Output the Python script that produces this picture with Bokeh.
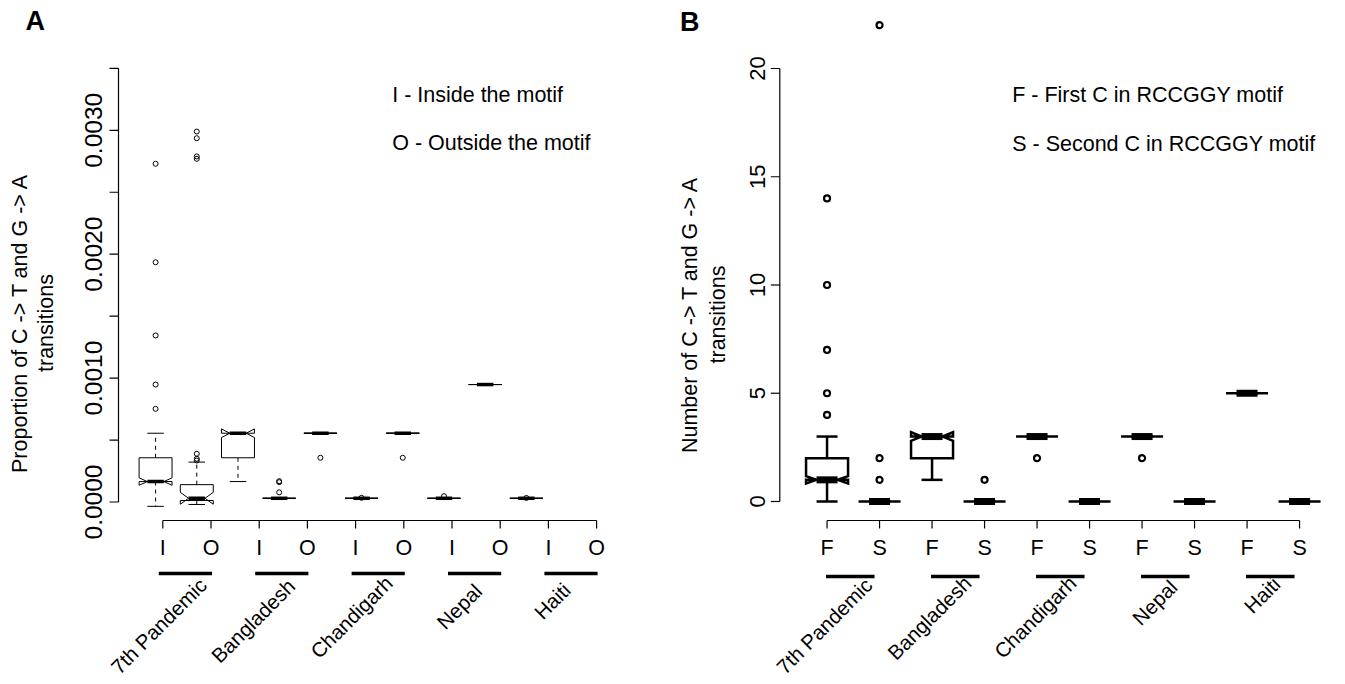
import math
from bokeh.plotting import figure
from bokeh.layouts import row
from bokeh.models import Range1d
from bokeh.core.properties import value
from bokeh.embed import file_html
from bokeh.resources import INLINE

FONT = "Liberation Sans"

# ---------------- data ----------------
groups = ["7th Pandemic", "Bangladesh", "Chandigarh", "Nepal", "Haiti"]
a_codes = ["I", "O"]
b_codes = ["F", "S"]

# Panel A: proportion of C->T / G->A transitions (box statistics, boxes I,O per group)
a_lower = [-0.000035, -0.000020, 0.000165, 0.000030, 0.000555, 0.000030, 0.000555, 0.000030, 0.000948, 0.000030]
a_q1    = [0.000165, 0.000012, 0.000357, 0.000030, 0.000555, 0.000030, 0.000555, 0.000030, 0.000948, 0.000030]
a_med   = [0.000165, 0.000030, 0.000555, 0.000030, 0.000555, 0.000030, 0.000555, 0.000030, 0.000948, 0.000030]
a_q3    = [0.000357, 0.000140, 0.000555, 0.000030, 0.000555, 0.000030, 0.000555, 0.000030, 0.000948, 0.000030]
a_upper = [0.000555, 0.000322, 0.000555, 0.000030, 0.000555, 0.000030, 0.000555, 0.000030, 0.000948, 0.000030]
a_notch = [0.000030, 0.000048, 0.000035, 0.0, 0.0, 0.0, 0.0, 0.0, 0.0, 0.0]
a_out = [[0.000752, 0.000948, 0.001344, 0.001935, 0.002730],
         [0.000335, 0.000349, 0.000389, 0.002770, 0.002789, 0.002936, 0.002990],
         [],
         [0.000078, 0.000160, 0.000168],
         [0.000357],
         [0.000034],
         [0.000357],
         [0.000047],
         [],
         [0.000033]]

# Panel B: number of C->T / G->A transitions (boxes F,S per group)
b_lower = [0, 0, 1, 0, 3, 0, 3, 0, 5, 0]
b_q1    = [1, 0, 2, 0, 3, 0, 3, 0, 5, 0]
b_med   = [1, 0, 3, 0, 3, 0, 3, 0, 5, 0]
b_q3    = [2, 0, 3, 0, 3, 0, 3, 0, 5, 0]
b_upper = [3, 0, 3, 0, 3, 0, 3, 0, 5, 0]
b_notch = [0.17, 0, 0.2, 0, 0, 0, 0, 0, 0, 0]
b_out = [[4, 5, 7, 10, 14], [1, 2, 22], [], [1], [2], [], [2], [], [], []]

a_yticks = [0.0, 0.001, 0.002, 0.003]
a_yminor = [0.0005, 0.0015, 0.0025, 0.0035]
b_yticks = [0, 5, 10, 15, 20]

a_legend = ["I - Inside the motif", "O - Outside the motif"]
b_legend = ["F - First C in RCCGGY motif", "S - Second C in RCCGGY motif"]
a_ylabel = ["Proportion of C -> T and G -> A", "transitions"]
b_ylabel = ["Number of C -> T and G -> A", "transitions"]

# ---------------- layout (page pixels) ----------------
A_LAB_DX = [-3, -11, -10, -17, -25]      # group-name end relative to 2nd tick
A_LAB_Y = [586, 587, 584, 592, 591]
B_LAB_DX = [-6, -12, -12, -16, -18]
B_LAB_Y = [586, 584, 584, 588, 585]
MID = 0.3465  # em offset from alphabetic baseline to middle of em box


class Geo:
    def __init__(self, left, w, h, ax, x0, sx, ay, sy):
        self.left, self.w, self.h = left, w, h
        self.ax, self.x0, self.sx, self.ay, self.sy = ax, x0, sx, ay, sy

    def X(self, px):
        return self.x0 + (px - self.ax) / self.sx

    def Y(self, py):
        return (self.ay - py) / self.sy


def make_fig(g):
    p = figure(width=g.w, height=g.h,
               x_range=Range1d(g.X(g.left), g.X(g.left + g.w)),
               y_range=Range1d(g.Y(g.h), g.Y(0)),
               output_backend="svg", toolbar_location=None,
               x_axis_location=None, y_axis_location=None, title=None,
               min_border=0, min_border_left=0, min_border_right=0,
               min_border_top=0, min_border_bottom=0)
    p.grid.visible = False
    p.outline_line_color = None
    p.background_fill_color = "white"
    p.border_fill_color = "white"
    return p


def txt(p, xs, ys, texts, size_px, angle=0.0, align="left", style="normal"):
    p.text(x=xs, y=ys, text=texts, angle=angle, text_align=align, text_baseline="middle",
           text_font=value(FONT), text_font_size=value("%gpx" % size_px),
           text_font_style=value(style), text_color="black")


def draw_yaxis(p, g, ticks, minor, labels, top_val, base_px, size_px):
    xa = g.X(g.ax)
    xt = g.X(g.ax - 9)
    p.segment([xa], [0], [xa], [top_val], line_color="black", line_width=1.2)
    allt = sorted(list(ticks) + list(minor))
    p.segment([xa] * len(allt), allt, [xt] * len(allt), allt, line_color="black", line_width=1.2)
    txt(p, [g.X(base_px - MID * size_px)] * len(ticks), list(ticks), labels, size_px,
        angle=math.pi / 2, align="center")


def draw_boxes(p, lower, q1, med, q3, upper, notch, outl, lw, med_lw, dash, o_size, o_lw):
    pos = list(range(1, len(med) + 1))
    hw, nw, st = 0.4, 0.5, 0.2
    p.segment(pos, q3, pos, upper, line_color="black", line_width=lw, line_dash=dash)
    p.segment(pos, q1, pos, lower, line_color="black", line_width=lw, line_dash=dash)
    p.segment([x - st for x in pos], upper, [x + st for x in pos], upper,
              line_color="black", line_width=lw)
    p.segment([x - st for x in pos], lower, [x + st for x in pos], lower,
              line_color="black", line_width=lw)
    pxs, pys = [], []
    for i, x in enumerate(pos):
        pxs.append([x - hw, x + hw, x + hw, x + hw * nw, x + hw, x + hw, x - hw, x - hw, x - hw * nw, x - hw])
        pys.append([q1[i], q1[i], med[i] - notch[i], med[i], med[i] + notch[i], q3[i], q3[i],
                    med[i] + notch[i], med[i], med[i] - notch[i]])
    p.patches(pxs, pys, fill_color="white", line_color="black", line_width=lw, line_join="miter")
    p.segment([x - hw * nw for x in pos], med, [x + hw * nw for x in pos], med,
              line_color="black", line_width=med_lw, line_cap="butt")
    ox, oy = [], []
    for i, vals in enumerate(outl):
        for v in vals:
            ox.append(pos[i])
            oy.append(v)
    p.scatter(ox, oy, marker="circle", size=o_size, fill_color=None,
              line_color="black", line_width=o_lw)


def draw_xaxis(p, g, tick_x, codes, line_y_px, line_start_off, line_end_off,
               lab_dx, lab_y, lab_size):
    n = len(tick_x)
    ya, yt = g.Y(520), g.Y(528)
    p.segment([tick_x[0]], [ya], [tick_x[-1]], [ya], line_color="black", line_width=1.2)
    p.segment(tick_x, [ya] * n, tick_x, [yt] * n, line_color="black", line_width=1.2)
    labels = [codes[i % 2] for i in range(n)]
    txt(p, tick_x, [g.Y(555 - MID * 21.5)] * n, labels, 21.5, align="center")
    ng = len(groups)
    x0s = [tick_x[2 * k] + line_start_off / g.sx for k in range(ng)]
    x1s = [tick_x[2 * k + 1] + line_end_off / g.sx for k in range(ng)]
    ly = g.Y(line_y_px)
    p.segment(x0s, [ly] * ng, x1s, [ly] * ng, line_color="black", line_width=3.5, line_cap="butt")
    # rotated group names: baseline end at given page point, shifted to em middle
    sh = MID * lab_size * math.sqrt(0.5)
    lx = [tick_x[2 * k + 1] + (lab_dx[k] - sh) / g.sx for k in range(ng)]
    ly2 = [g.Y(lab_y[k] - sh) for k in range(ng)]
    txt(p, lx, ly2, groups, lab_size, angle=math.pi / 4, align="right")


H = 684

# ---------------- Panel A ----------------
gA = Geo(left=0, w=640, h=H, ax=118, x0=0.1, sx=41.2, ay=501.5, sy=123900.0)
pA = make_fig(gA)
draw_yaxis(pA, gA, a_yticks, a_yminor, ["%.4f" % t for t in a_yticks], 0.0035, 101, 24.5)
draw_boxes(pA, a_lower, a_q1, a_med, a_q3, a_upper, a_notch, a_out,
           lw=1, med_lw=3.5, dash="4 4", o_size=5, o_lw=1)
a_tick_x = [gA.X(162.3 + 48.2 * k) for k in range(10)]
draw_xaxis(pA, gA, a_tick_x, a_codes, line_y_px=573, line_start_off=-4, line_end_off=1,
           lab_dx=A_LAB_DX, lab_y=A_LAB_Y, lab_size=20.5)
txt(pA, [gA.X(391.7)] * 2, [gA.Y(101.7 - MID * 21.5), gA.Y(150 - MID * 21.5)], a_legend, 21.5)
txt(pA, [gA.X(27.3 - MID * 21.5), gA.X(53.3 - MID * 21.5)], [gA.Y(322.5)] * 2, a_ylabel, 21.5,
    angle=math.pi / 2, align="center")
txt(pA, [gA.X(25)], [gA.Y(30 - MID * 27)], ["A"], 27, style="bold")

# ---------------- Panel B ----------------
gB = Geo(left=640, w=700, h=H, ax=779.3, x0=0.1, sx=52.5, ay=501.0, sy=21.65)
pB = make_fig(gB)
draw_yaxis(pB, gB, b_yticks, [], [str(t) for t in b_yticks], 20, 765, 22)
draw_boxes(pB, b_lower, b_q1, b_med, b_q3, b_upper, b_notch, b_out,
           lw=2.5, med_lw=7, dash="solid", o_size=6, o_lw=2.2)
b_tick_x = list(range(1, 11))
draw_xaxis(pB, gB, b_tick_x, b_codes, line_y_px=576, line_start_off=-1, line_end_off=-5,
           lab_dx=B_LAB_DX, lab_y=B_LAB_Y, lab_size=20.5)
txt(pB, [gB.X(1011.7)] * 2, [gB.Y(102.3 - MID * 21.5), gB.Y(151 - MID * 21.5)], b_legend, 21.5)
txt(pB, [gB.X(697.4 - MID * 21.5), gB.X(724.5 - MID * 21.5)], [gB.Y(314)] * 2, b_ylabel, 21.5,
    angle=math.pi / 2, align="center")
txt(pB, [gB.X(679.5)], [gB.Y(31 - MID * 27)], ["B"], 27, style="bold")

layout = row(pA, pB)
open("out.html", "w").write(file_html(layout, INLINE))
